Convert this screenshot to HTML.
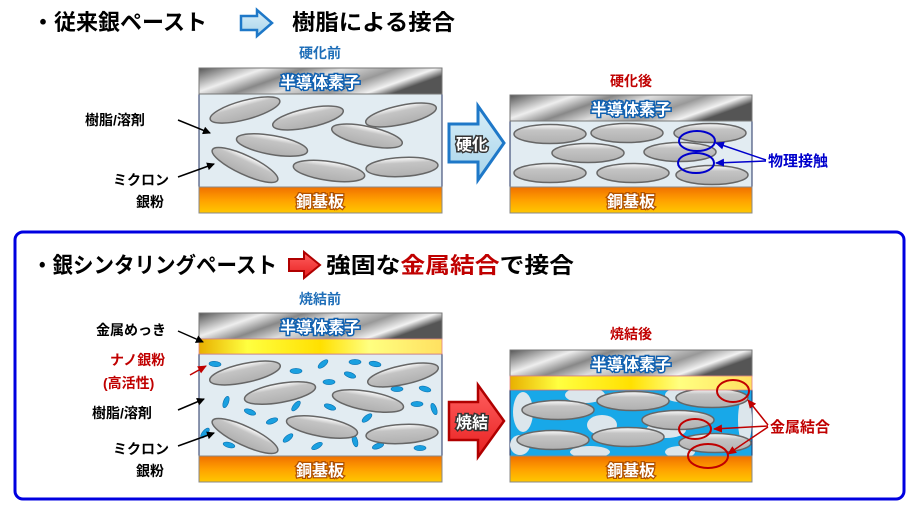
<!DOCTYPE html><html><head><meta charset="utf-8"><style>
body{margin:0;background:#fff}
svg text{font-family:"Liberation Sans","Noto Sans CJK JP",sans-serif;font-weight:bold}
</style></head><body>
<svg width="916" height="515" viewBox="0 0 916 515" xmlns="http://www.w3.org/2000/svg">
<defs>
<linearGradient id="metal" x1="0" x2="1" y1="0" y2="0.3">
<stop offset="0" stop-color="#555"/><stop offset="0.25" stop-color="#eee"/><stop offset="0.4" stop-color="#888"/><stop offset="0.55" stop-color="#ddd"/><stop offset="0.75" stop-color="#999"/><stop offset="0.9" stop-color="#f2f2f2"/><stop offset="1" stop-color="#555"/></linearGradient>
<linearGradient id="cu" x1="0" x2="0" y1="0" y2="1"><stop offset="0" stop-color="#f07000"/><stop offset="0.5" stop-color="#ffa000"/><stop offset="1" stop-color="#ffc800"/></linearGradient>
<linearGradient id="au" x1="0" x2="1" y1="0" y2="0"><stop offset="0" stop-color="#e8b000"/><stop offset="0.2" stop-color="#ffff40"/><stop offset="0.5" stop-color="#ffe000"/><stop offset="0.7" stop-color="#ffff80"/><stop offset="1" stop-color="#ffe060"/></linearGradient>
<linearGradient id="fl" x1="0" x2="0" y1="0" y2="1"><stop offset="0" stop-color="#fff"/><stop offset="0.3" stop-color="#c4c4c4"/><stop offset="1" stop-color="#b0b0b0"/></linearGradient>
<linearGradient id="bluearr" x1="0" x2="0" y1="0" y2="1"><stop offset="0" stop-color="#d8eef8"/><stop offset="1" stop-color="#a8d4ea"/></linearGradient>
<linearGradient id="redarr" x1="0" x2="0" y1="0" y2="1"><stop offset="0" stop-color="#ff6060"/><stop offset="1" stop-color="#e82020"/></linearGradient>
<marker id="ak" markerWidth="8" markerHeight="8" refX="7" refY="4" orient="auto" markerUnits="userSpaceOnUse"><path d="M0,0 L8,4 L0,8z" fill="#000"/></marker>
<marker id="ar" markerWidth="9" markerHeight="8" refX="8" refY="4" orient="auto" markerUnits="userSpaceOnUse"><path d="M0,0 L9,4 L0,8z" fill="#c00000"/></marker>
<marker id="ab" markerWidth="9" markerHeight="8" refX="8" refY="4" orient="auto" markerUnits="userSpaceOnUse"><path d="M0,0 L9,4 L0,8z" fill="#0000cc"/></marker>
<g id="f"><ellipse rx="36" ry="9.5" fill="url(#fl)" stroke="#666" stroke-width="1.5"/></g>
<g id="n"><ellipse rx="6" ry="2.6" fill="#1aa0e0" stroke="#0a70b0" stroke-width="0.6"/></g>
</defs>

<text x="32" y="30" font-size="22" textLength="175" lengthAdjust="spacingAndGlyphs">・従来銀ペースト</text>
<path d="M241,16 h16 v-6 l15,13 l-15,13 v-6 h-16z" fill="url(#bluearr)" stroke="#1e78c8" stroke-width="2.5"/>
<text x="292" y="30" font-size="22" textLength="163" lengthAdjust="spacingAndGlyphs">樹脂による接合</text>
<text x="320" y="58" font-size="14" fill="#1e6eb8" text-anchor="middle">硬化前</text>
<text x="631" y="86" font-size="14" fill="#c00000" text-anchor="middle">硬化後</text>

<rect x="199" y="94" width="243" height="93" fill="#e2ecf2" stroke="#203060"/>
<g>
<use href="#f" transform="translate(245,110) rotate(-15)"/>
<use href="#f" transform="translate(308,118) rotate(-12)"/>
<use href="#f" transform="translate(401,115) rotate(-12)"/>
<use href="#f" transform="translate(367,136) rotate(12)"/>
<use href="#f" transform="translate(272,145) rotate(10)"/>
<use href="#f" transform="translate(245,165) rotate(25)"/>
<use href="#f" transform="translate(329,171) rotate(8)"/>
<use href="#f" transform="translate(402,167) rotate(-3)"/>
</g>
<rect x="199" y="68" width="243" height="26" fill="url(#metal)" stroke="#777"/>
<text x="320" y="88" font-size="16" fill="#fff" stroke="#1060b0" stroke-width="3" paint-order="stroke" text-anchor="middle">半導体素子</text>
<rect x="199" y="187" width="243" height="26" fill="url(#cu)" stroke="#888"/>
<text x="320" y="207" font-size="16" fill="#fff" stroke="#b05000" stroke-width="2.5" paint-order="stroke" text-anchor="middle">銅基板</text>

<text x="85" y="125" font-size="14">樹脂/溶剤</text>
<line x1="178" y1="120" x2="210" y2="133" stroke="#000" stroke-width="1.5" marker-end="url(#ak)"/>
<text x="113" y="185" font-size="14">ミクロン</text>
<text x="136" y="207" font-size="14">銀粉</text>
<line x1="178" y1="177" x2="214" y2="164" stroke="#000" stroke-width="1.5" marker-end="url(#ak)"/>

<path d="M449,124 h29 v-18 l26,37 l-26,37 v-18 h-29z" fill="url(#bluearr)" stroke="#1e78c8" stroke-width="3"/>
<text x="472" y="150" font-size="16" fill="#fff" stroke="#333" stroke-width="3" paint-order="stroke" text-anchor="middle">硬化</text>

<rect x="510" y="121" width="242" height="66" fill="#e2ecf2" stroke="#203060"/>
<g>
<use href="#f" transform="translate(550,134)"/>
<use href="#f" transform="translate(627,133)"/>
<use href="#f" transform="translate(710,133)"/>
<use href="#f" transform="translate(588,153)"/>
<use href="#f" transform="translate(680,152)"/>
<use href="#f" transform="translate(550,173)"/>
<use href="#f" transform="translate(633,173)"/>
<use href="#f" transform="translate(712,175)"/>
</g>
<rect x="510" y="95" width="242" height="26" fill="url(#metal)" stroke="#777"/>
<text x="631" y="115" font-size="16" fill="#fff" stroke="#1060b0" stroke-width="3" paint-order="stroke" text-anchor="middle">半導体素子</text>
<rect x="510" y="187" width="242" height="26" fill="url(#cu)" stroke="#888"/>
<text x="631" y="207" font-size="16" fill="#fff" stroke="#b05000" stroke-width="2.5" paint-order="stroke" text-anchor="middle">銅基板</text>
<ellipse cx="697" cy="141" rx="18" ry="10" fill="none" stroke="#0000cc" stroke-width="2"/>
<ellipse cx="696" cy="163" rx="18" ry="10" fill="none" stroke="#0000cc" stroke-width="2"/>
<line x1="766" y1="160" x2="716" y2="143" stroke="#0000cc" stroke-width="1.5" marker-end="url(#ab)"/>
<line x1="766" y1="161" x2="716" y2="163" stroke="#0000cc" stroke-width="1.5" marker-end="url(#ab)"/>
<text x="768" y="166" font-size="15" fill="#0000cc">物理接触</text>

<rect x="15" y="232" width="889" height="267" rx="8" fill="none" stroke="#0000e0" stroke-width="3"/>
<text x="32" y="273" font-size="22" textLength="245" lengthAdjust="spacingAndGlyphs">・銀シンタリングペースト</text>
<path d="M289,259 h15 v-7 l16,13 l-16,13 v-7 h-15z" fill="url(#redarr)" stroke="#b00000" stroke-width="2"/>
<text x="326" y="273" font-size="22" textLength="248" lengthAdjust="spacingAndGlyphs">強固な<tspan fill="#c00000">金属結合</tspan>で接合</text>
<text x="320" y="304" font-size="14" fill="#1e6eb8" text-anchor="middle">焼結前</text>
<text x="631" y="339" font-size="14" fill="#c00000" text-anchor="middle">焼結後</text>

<rect x="199" y="354" width="243" height="102" fill="#e2ecf2" stroke="#203060"/>
<g>
<use href="#n" transform="translate(215,364) rotate(5)"/>
<use href="#n" transform="translate(296,371)"/>
<use href="#n" transform="translate(323,364) rotate(-40)"/>
<use href="#n" transform="translate(355,362)"/>
<use href="#n" transform="translate(375,364) rotate(10)"/>
<use href="#n" transform="translate(350,375) rotate(20)"/>
<use href="#n" transform="translate(329,382)"/>
<use href="#n" transform="translate(397,389)"/>
<use href="#n" transform="translate(425,389) rotate(15)"/>
<use href="#n" transform="translate(226,402) rotate(-70)"/>
<use href="#n" transform="translate(250,412) rotate(20)"/>
<use href="#n" transform="translate(296,406) rotate(-50)"/>
<use href="#n" transform="translate(330,407) rotate(20)"/>
<use href="#n" transform="translate(417,404)"/>
<use href="#n" transform="translate(434,409) rotate(70)"/>
<use href="#n" transform="translate(272,421) rotate(-20)"/>
<use href="#n" transform="translate(205,433) rotate(-50)"/>
<use href="#n" transform="translate(367,418) rotate(-40)"/>
<use href="#n" transform="translate(288,438) rotate(-40)"/>
<use href="#n" transform="translate(317,446) rotate(-30)"/>
<use href="#n" transform="translate(229,445) rotate(15)"/>
<use href="#n" transform="translate(355,441) rotate(75)"/>
<use href="#n" transform="translate(378,446) rotate(-20)"/>
<use href="#n" transform="translate(420,448)"/>
<use href="#f" transform="translate(245,373) rotate(-12)"/>
<use href="#f" transform="translate(280,393) rotate(-10)"/>
<use href="#f" transform="translate(403,375) rotate(-12)"/>
<use href="#f" transform="translate(368,401) rotate(10)"/>
<use href="#f" transform="translate(245,436) rotate(25)"/>
<use href="#f" transform="translate(322,427) rotate(10)"/>
<use href="#f" transform="translate(402,434) rotate(-3)"/>
</g>
<rect x="199" y="313" width="243" height="26" fill="url(#metal)" stroke="#777"/>
<text x="320" y="333" font-size="16" fill="#fff" stroke="#1060b0" stroke-width="3" paint-order="stroke" text-anchor="middle">半導体素子</text>
<rect x="199" y="339" width="243" height="15" fill="url(#au)" stroke="#e08080" stroke-width="0.8"/>
<rect x="199" y="456" width="243" height="26" fill="url(#cu)" stroke="#888"/>
<text x="320" y="476" font-size="16" fill="#fff" stroke="#b05000" stroke-width="2.5" paint-order="stroke" text-anchor="middle">銅基板</text>

<text x="96" y="335" font-size="14">金属めっき</text>
<line x1="178" y1="331" x2="203" y2="342" stroke="#000" stroke-width="1.5" marker-end="url(#ak)"/>
<text x="110" y="365" font-size="14" fill="#c00000">ナノ銀粉</text>
<text x="103" y="388" font-size="14" fill="#c00000">(高活性)</text>
<line x1="190" y1="375" x2="206" y2="366" stroke="#c00000" stroke-width="1.5" marker-end="url(#ar)"/>
<text x="92" y="418" font-size="14">樹脂/溶剤</text>
<line x1="178" y1="410" x2="204" y2="399" stroke="#000" stroke-width="1.5" marker-end="url(#ak)"/>
<text x="113" y="454" font-size="14">ミクロン</text>
<text x="136" y="476" font-size="14">銀粉</text>
<line x1="178" y1="446" x2="214" y2="433" stroke="#000" stroke-width="1.5" marker-end="url(#ak)"/>

<path d="M449,402 h29 v-17 l26,36 l-26,36 v-17 h-29z" fill="url(#redarr)" stroke="#b00000" stroke-width="2.5"/>
<text x="472" y="428" font-size="16" fill="#fff" stroke="#333" stroke-width="3" paint-order="stroke" text-anchor="middle">焼結</text>

<rect x="510" y="390" width="242" height="66" fill="#18a8e8" stroke="#203060"/>
<g fill="#dce6ec">
<ellipse cx="523" cy="412" rx="10" ry="20"/>
<ellipse cx="585" cy="395" rx="20" ry="8"/>
<ellipse cx="680" cy="395" rx="15" ry="7"/>
<ellipse cx="602" cy="425" rx="15" ry="10"/>
<ellipse cx="666" cy="430" rx="20" ry="8"/>
<ellipse cx="745" cy="420" rx="7" ry="25"/>
<ellipse cx="590" cy="452" rx="20" ry="6"/>
<ellipse cx="680" cy="452" rx="15" ry="6"/>
<ellipse cx="520" cy="445" rx="10" ry="10"/>
</g>
<g>
<use href="#f" transform="translate(558,410)"/>
<use href="#f" transform="translate(633,401)"/>
<use href="#f" transform="translate(712,398)"/>
<use href="#f" transform="translate(678,420)"/>
<use href="#f" transform="translate(553,440)"/>
<use href="#f" transform="translate(628,437)"/>
<use href="#f" transform="translate(715,443)"/>
</g>
<rect x="510" y="350" width="242" height="26" fill="url(#metal)" stroke="#777"/>
<text x="631" y="370" font-size="16" fill="#fff" stroke="#1060b0" stroke-width="3" paint-order="stroke" text-anchor="middle">半導体素子</text>
<rect x="510" y="376" width="242" height="14" fill="url(#au)" stroke="#e08080" stroke-width="0.8"/>
<rect x="510" y="456" width="242" height="26" fill="url(#cu)" stroke="#888"/>
<text x="631" y="476" font-size="16" fill="#fff" stroke="#b05000" stroke-width="2.5" paint-order="stroke" text-anchor="middle">銅基板</text>
<ellipse cx="733" cy="391" rx="16" ry="11" fill="none" stroke="#c00000" stroke-width="2"/>
<ellipse cx="695" cy="429" rx="16" ry="10" fill="none" stroke="#c00000" stroke-width="2"/>
<ellipse cx="708" cy="456" rx="20" ry="12" fill="none" stroke="#c00000" stroke-width="2"/>
<line x1="768" y1="425" x2="748" y2="400" stroke="#c00000" stroke-width="1.5" marker-end="url(#ar)"/>
<line x1="768" y1="426" x2="714" y2="429" stroke="#c00000" stroke-width="1.5" marker-end="url(#ar)"/>
<line x1="768" y1="427" x2="728" y2="454" stroke="#c00000" stroke-width="1.5" marker-end="url(#ar)"/>
<text x="770" y="432" font-size="15" fill="#c00000">金属結合</text>
</svg>
</body></html>
